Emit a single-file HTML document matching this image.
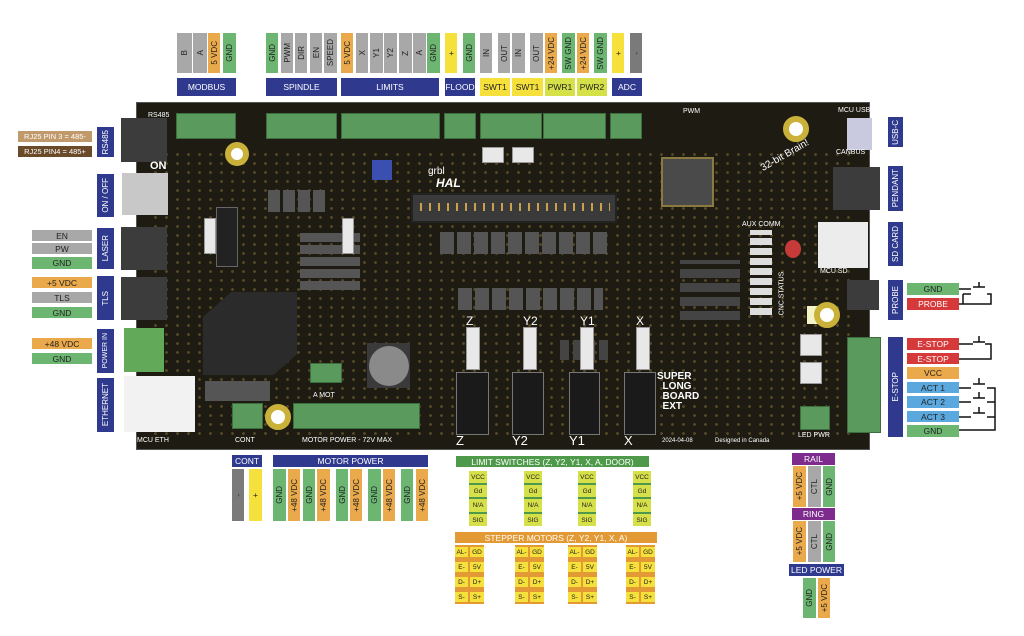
<!DOCTYPE html>
<html><head><meta charset="utf-8">
<style>
*{margin:0;padding:0;box-sizing:border-box}
body{width:1024px;height:636px;background:#fff;position:relative;overflow:hidden;font-family:"Liberation Sans",sans-serif}
.a{position:absolute}
.v{position:absolute;display:flex;align-items:center;justify-content:center;font-size:8px;color:#222;}
.v span{writing-mode:vertical-rl;transform:rotate(180deg);white-space:nowrap}
.h{position:absolute;display:flex;align-items:center;justify-content:center;font-size:8.5px;color:#fff;white-space:nowrap}
.B{background:#2f3a8f;color:#fff}
.G{background:#a8a8a8}.O{background:#eaa94a}.N{background:#6cb672}.Y{background:#f6e03c}.L{background:#d6e048}.D{background:#7a7a7a}.R{background:#d6393a;color:#fff}.S{background:#5ba8de}.P{background:#7d2b8d;color:#fff}
.t{position:absolute;background:#5a9a5c;border:1px solid #3d6e3f}
.k{position:absolute;background:#3c3c3c}
.c{position:absolute;background:#e8e8e8;border:1px solid #999}
.chip{position:absolute;background:#505050}
.w{position:absolute;color:#fff;font-size:7px;white-space:nowrap}
</style></head><body>

<!-- BOARD -->
<div class="a" style="left:136px;top:102px;width:734px;height:348px;background:#1d1b12;border:1px solid #555"></div>
<div class="a" style="left:150px;top:150px;width:700px;height:290px;background:radial-gradient(circle,rgba(214,170,80,.55) 1.3px,transparent 1.6px) 0 0/11px 9px;opacity:.55"></div>
<!-- left jacks -->
<div class="k" style="left:121px;top:118px;width:46px;height:44px"></div>
<div class="a" style="left:122px;top:173px;width:46px;height:42px;background:#c8c8c8"></div>
<div class="k" style="left:121px;top:227px;width:46px;height:43px"></div>
<div class="k" style="left:121px;top:277px;width:46px;height:43px"></div>
<div class="a" style="left:124px;top:328px;width:40px;height:44px;background:#62a95a"></div>
<div class="a" style="left:124px;top:376px;width:71px;height:56px;background:#f2f2f2"></div>
<!-- top terminals -->
<div class="t" style="left:176px;top:113px;width:60px;height:26px"></div>
<div class="t" style="left:266px;top:113px;width:71px;height:26px"></div>
<div class="t" style="left:341px;top:113px;width:99px;height:26px"></div>
<div class="t" style="left:444px;top:113px;width:32px;height:26px"></div>
<div class="t" style="left:480px;top:113px;width:62px;height:26px"></div>
<div class="t" style="left:543px;top:113px;width:63px;height:26px"></div>
<div class="t" style="left:610px;top:113px;width:32px;height:26px"></div>
<!-- chips -->
<div class="chip" style="left:661px;top:157px;width:53px;height:50px;background:#4a4a4a;border:2px solid #8a7a40"></div>
<div class="a" style="left:411px;top:193px;width:206px;height:30px;background:#3a3a3a;border:2px solid #222"></div>
<div class="a" style="left:420px;top:203px;width:190px;height:8px;background:repeating-linear-gradient(90deg,#c9a14a 0 2px,transparent 2px 9px)"></div>
<div class="a" style="left:440px;top:232px;width:170px;height:22px;background:repeating-linear-gradient(90deg,#555 0 14px,transparent 14px 17px)"></div>
<div class="a" style="left:458px;top:288px;width:145px;height:22px;background:repeating-linear-gradient(90deg,#555 0 14px,transparent 14px 17px)"></div>
<div class="a" style="left:268px;top:190px;width:60px;height:22px;background:repeating-linear-gradient(90deg,#555 0 12px,transparent 12px 15px)"></div>
<div class="a" style="left:300px;top:230px;width:60px;height:60px;background:repeating-linear-gradient(0deg,#555 0 9px,transparent 9px 12px)"></div>
<div class="a" style="left:680px;top:260px;width:60px;height:60px;background:repeating-linear-gradient(0deg,#444 0 9px,transparent 9px 14px)"></div>
<div class="a" style="left:560px;top:340px;width:50px;height:20px;background:repeating-linear-gradient(90deg,#444 0 9px,transparent 9px 13px)"></div>
<div class="a" style="left:372px;top:160px;width:20px;height:20px;background:#3a4fb0"></div>
<!-- battery octagon -->
<div class="a" style="left:203px;top:292px;width:94px;height:83px;background:#2b2b2b;clip-path:polygon(30% 0,100% 0,100% 75%,75% 100%,0 100%,0 30%)"></div>
<div class="a" style="left:367px;top:343px;width:43px;height:45px;background:#3a3a3a"></div>
<div class="a" style="left:369px;top:346px;width:40px;height:40px;border-radius:50%;background:#8a8a8a"></div>
<!-- pin headers -->
<div class="k" style="left:216px;top:207px;width:22px;height:60px;background:#222;border:1px solid #666"></div>
<div class="c" style="left:204px;top:218px;width:12px;height:36px"></div>
<div class="c" style="left:342px;top:218px;width:12px;height:36px"></div>
<div class="c" style="left:466px;top:327px;width:14px;height:43px"></div>
<div class="c" style="left:523px;top:327px;width:14px;height:43px"></div>
<div class="c" style="left:580px;top:327px;width:14px;height:43px"></div>
<div class="c" style="left:636px;top:327px;width:14px;height:43px"></div>
<div class="k" style="left:456px;top:372px;width:33px;height:63px;background:#1a1a1a;border:1px solid #777"></div>
<div class="k" style="left:512px;top:372px;width:32px;height:63px;background:#1a1a1a;border:1px solid #777"></div>
<div class="k" style="left:569px;top:372px;width:31px;height:63px;background:#1a1a1a;border:1px solid #777"></div>
<div class="k" style="left:624px;top:372px;width:32px;height:63px;background:#1a1a1a;border:1px solid #777"></div>
<div class="a" style="left:750px;top:230px;width:22px;height:85px;background:repeating-linear-gradient(0deg,#ddd 0 7px,transparent 7px 10px)"></div>
<div class="c" style="left:800px;top:334px;width:22px;height:22px"></div>
<div class="c" style="left:800px;top:362px;width:22px;height:22px"></div>
<div class="c" style="left:482px;top:147px;width:22px;height:16px"></div>
<div class="c" style="left:512px;top:147px;width:22px;height:16px"></div>
<!-- bottom terminals -->
<div class="t" style="left:232px;top:403px;width:31px;height:26px"></div>
<div class="t" style="left:293px;top:403px;width:127px;height:26px"></div>
<div class="t" style="left:310px;top:363px;width:32px;height:20px"></div>
<div class="t" style="left:800px;top:406px;width:30px;height:24px"></div>
<div class="a" style="left:205px;top:381px;width:65px;height:20px;background:#555"></div>
<!-- right side -->
<div class="a" style="left:847px;top:118px;width:25px;height:32px;background:#c9c9e0"></div>
<div class="k" style="left:833px;top:167px;width:47px;height:43px"></div>
<div class="a" style="left:818px;top:222px;width:50px;height:46px;background:#ececec"></div>
<div class="k" style="left:847px;top:280px;width:32px;height:30px"></div>
<div class="a" style="left:847px;top:337px;width:34px;height:96px;background:#5a9a5c;border:1px solid #3d6e3f"></div>
<div class="a" style="left:807px;top:306px;width:18px;height:18px;background:#f3f3c8"></div>
<div class="a" style="left:785px;top:240px;width:16px;height:18px;border-radius:50%;background:#c73a3a"></div>
<!-- gold rings -->
<div class="a" style="left:225px;top:142px;width:24px;height:24px;border-radius:50%;background:#fff;border:6px solid #c9b13a"></div>
<div class="a" style="left:265px;top:404px;width:26px;height:26px;border-radius:50%;background:#fff;border:6px solid #c9b13a"></div>
<div class="a" style="left:783px;top:116px;width:26px;height:26px;border-radius:50%;background:#fff;border:6px solid #c9b13a"></div>
<div class="a" style="left:814px;top:302px;width:26px;height:26px;border-radius:50%;background:#fff;border:6px solid #c9b13a"></div>
<!-- board text -->
<div class="w" style="left:148px;top:112px">RS485</div>
<div class="w" style="left:150px;top:160px;font-size:11px;font-weight:bold">ON</div>
<div class="w" style="left:428px;top:166px;font-size:10px">grbl</div>
<div class="w" style="left:436px;top:176px;font-size:12px;font-weight:bold;font-style:italic">HAL</div>
<div class="w" style="left:758px;top:150px;font-size:10px;transform:rotate(-30deg)">32-bit Brain!</div>
<div class="w" style="left:683px;top:108px">PWM</div>
<div class="w" style="left:838px;top:107px">MCU USB</div>
<div class="w" style="left:836px;top:149px">CANBUS</div>
<div class="w" style="left:820px;top:268px">MCU SD</div>
<div class="w" style="left:742px;top:221px">AUX COMM</div>
<div class="w" style="left:657px;top:372px;font-size:10px;font-weight:bold;line-height:10px">SUPER<br>&nbsp;&nbsp;LONG<br>&nbsp;&nbsp;BOARD<br>&nbsp;&nbsp;EXT</div>
<div class="w" style="left:456px;top:433px;font-size:13px">Z</div>
<div class="w" style="left:512px;top:433px;font-size:13px">Y2</div>
<div class="w" style="left:569px;top:433px;font-size:13px">Y1</div>
<div class="w" style="left:624px;top:433px;font-size:13px">X</div>
<div class="w" style="left:466px;top:314px;font-size:12px">Z</div>
<div class="w" style="left:523px;top:314px;font-size:12px">Y2</div>
<div class="w" style="left:580px;top:314px;font-size:12px">Y1</div>
<div class="w" style="left:636px;top:314px;font-size:12px">X</div>
<div class="w" style="left:235px;top:437px">CONT</div>
<div class="w" style="left:302px;top:437px">MOTOR POWER - 72V MAX</div>
<div class="w" style="left:313px;top:392px">A MOT</div>
<div class="w" style="left:137px;top:437px">MCU ETH</div>
<div class="w" style="left:662px;top:438px;font-size:6px">2024-04-08</div>
<div class="w" style="left:715px;top:438px;font-size:6px">Designed in Canada</div>
<div class="w" style="left:798px;top:432px">LED PWR</div>
<div class="w" style="left:760px;top:290px;font-size:7px;transform:rotate(-90deg)">CNC STATUS</div>

<!-- TOP LABELS -->
<div class="v G" style="left:177px;top:33px;width:15px;height:40px"><span>B</span></div>
<div class="v G" style="left:193px;top:33px;width:14px;height:40px"><span>A</span></div>
<div class="v O" style="left:208px;top:33px;width:12px;height:40px"><span>5 VDC</span></div>
<div class="v N" style="left:223px;top:33px;width:13px;height:40px"><span>GND</span></div>
<div class="h B" style="left:177px;top:78px;width:59px;height:18px">MODBUS</div>

<div class="v N" style="left:266px;top:33px;width:12px;height:40px"><span>GND</span></div>
<div class="v G" style="left:281px;top:33px;width:12px;height:40px"><span>PWM</span></div>
<div class="v G" style="left:295px;top:33px;width:12px;height:40px"><span>DIR</span></div>
<div class="v G" style="left:310px;top:33px;width:12px;height:40px"><span>EN</span></div>
<div class="v G" style="left:324px;top:33px;width:13px;height:40px"><span>SPEED</span></div>
<div class="h B" style="left:266px;top:78px;width:71px;height:18px">SPINDLE</div>

<div class="v O" style="left:341px;top:33px;width:12px;height:40px"><span>5 VDC</span></div>
<div class="v G" style="left:356px;top:33px;width:12px;height:40px"><span>X</span></div>
<div class="v G" style="left:370px;top:33px;width:13px;height:40px"><span>Y1</span></div>
<div class="v G" style="left:384px;top:33px;width:13px;height:40px"><span>Y2</span></div>
<div class="v G" style="left:399px;top:33px;width:13px;height:40px"><span>Z</span></div>
<div class="v G" style="left:413px;top:33px;width:13px;height:40px"><span>A</span></div>
<div class="v N" style="left:427px;top:33px;width:13px;height:40px"><span>GND</span></div>
<div class="h B" style="left:341px;top:78px;width:98px;height:18px">LIMITS</div>

<div class="v Y" style="left:445px;top:33px;width:12px;height:40px"><span>+</span></div>
<div class="v N" style="left:463px;top:33px;width:12px;height:40px"><span>GND</span></div>
<div class="h B" style="left:445px;top:78px;width:30px;height:18px">FLOOD</div>

<div class="v G" style="left:480px;top:33px;width:12px;height:40px"><span>IN</span></div>
<div class="v G" style="left:498px;top:33px;width:12px;height:40px"><span>OUT</span></div>
<div class="v G" style="left:512px;top:33px;width:13px;height:40px"><span>IN</span></div>
<div class="v G" style="left:530px;top:33px;width:13px;height:40px"><span>OUT</span></div>
<div class="v O" style="left:545px;top:33px;width:12px;height:40px"><span>+24 VDC</span></div>
<div class="v N" style="left:562px;top:33px;width:13px;height:40px"><span>SW GND</span></div>
<div class="v O" style="left:577px;top:33px;width:12px;height:40px"><span>+24 VDC</span></div>
<div class="v N" style="left:594px;top:33px;width:13px;height:40px"><span>SW GND</span></div>
<div class="h Y" style="left:480px;top:78px;width:30px;height:18px;color:#222">SWT1</div>
<div class="h Y" style="left:512px;top:78px;width:31px;height:18px;color:#222">SWT1</div>
<div class="h L" style="left:545px;top:78px;width:30px;height:18px;color:#222">PWR1</div>
<div class="h L" style="left:577px;top:78px;width:30px;height:18px;color:#222">PWR2</div>

<div class="v Y" style="left:612px;top:33px;width:12px;height:40px"><span>+</span></div>
<div class="v D" style="left:630px;top:33px;width:12px;height:40px"><span>-</span></div>
<div class="h B" style="left:612px;top:78px;width:30px;height:18px">ADC</div>

<!-- LEFT LABELS -->
<div class="v B" style="left:97px;top:127px;width:17px;height:30px"><span style="color:#fff">RS485</span></div>
<div class="h" style="left:18px;top:131px;width:74px;height:11px;background:#c09a6b;font-size:7.5px">RJ25 PIN 3 = 485-</div>
<div class="h" style="left:18px;top:146px;width:74px;height:11px;background:#6b4a2a;font-size:7.5px">RJ25 PIN4 = 485+</div>
<div class="v B" style="left:97px;top:174px;width:17px;height:43px"><span style="color:#fff">ON / OFF</span></div>
<div class="v B" style="left:97px;top:228px;width:17px;height:41px"><span style="color:#fff">LASER</span></div>
<div class="h G" style="left:32px;top:230px;width:60px;height:11px;color:#222">EN</div>
<div class="h G" style="left:32px;top:243px;width:60px;height:11px;color:#222">PW</div>
<div class="h N" style="left:32px;top:257px;width:60px;height:12px;color:#222">GND</div>
<div class="v B" style="left:97px;top:276px;width:17px;height:44px"><span style="color:#fff">TLS</span></div>
<div class="h O" style="left:32px;top:277px;width:60px;height:11px;color:#222">+5 VDC</div>
<div class="h G" style="left:32px;top:292px;width:60px;height:11px;color:#222">TLS</div>
<div class="h N" style="left:32px;top:307px;width:60px;height:11px;color:#222">GND</div>
<div class="v B" style="left:97px;top:329px;width:17px;height:44px;font-size:7px"><span style="color:#fff">POWER IN</span></div>
<div class="h O" style="left:32px;top:338px;width:60px;height:11px;color:#222">+48 VDC</div>
<div class="h N" style="left:32px;top:353px;width:60px;height:11px;color:#222">GND</div>
<div class="v B" style="left:97px;top:378px;width:17px;height:54px"><span style="color:#fff">ETHERNET</span></div>

<!-- RIGHT LABELS -->
<div class="v B" style="left:888px;top:117px;width:15px;height:30px"><span style="color:#fff">USB-C</span></div>
<div class="v B" style="left:888px;top:166px;width:15px;height:45px"><span style="color:#fff">PENDANT</span></div>
<div class="v B" style="left:888px;top:222px;width:15px;height:44px"><span style="color:#fff">SD CARD</span></div>
<div class="v B" style="left:888px;top:280px;width:15px;height:40px"><span style="color:#fff">PROBE</span></div>
<div class="h N" style="left:907px;top:283px;width:52px;height:12px;color:#222">GND</div>
<div class="h R" style="left:907px;top:298px;width:52px;height:12px">PROBE</div>
<div class="v B" style="left:888px;top:337px;width:15px;height:100px"><span style="color:#fff">E-STOP</span></div>
<div class="h R" style="left:907px;top:338px;width:52px;height:12px">E-STOP</div>
<div class="h R" style="left:907px;top:353px;width:52px;height:11px">E-STOP</div>
<div class="h O" style="left:907px;top:367px;width:52px;height:12px;color:#222">VCC</div>
<div class="h S" style="left:907px;top:382px;width:52px;height:11px;color:#222">ACT 1</div>
<div class="h S" style="left:907px;top:396px;width:52px;height:12px;color:#222">ACT 2</div>
<div class="h S" style="left:907px;top:411px;width:52px;height:11px;color:#222">ACT 3</div>
<div class="h N" style="left:907px;top:425px;width:52px;height:12px;color:#222">GND</div>
<svg class="a" style="left:959px;top:280px" width="40" height="160">
<g stroke="#111" stroke-width="1.5" fill="none">
<path d="M0 9 H12 M0 24 H4 V14 M4 14 H12 M28 14 H32 V24 H0"/>
<path d="M14 7 H26 M20 7 V2"/>
<path d="M0 64 H14 M0 79 H32 V64 H26 M14 62 H26 M20 62 V56"/>
<path d="M0 108 H12 M28 108 H36 V150 H0"/>
<path d="M0 122 H12 M28 122 H36"/>
<path d="M0 137 H12 M28 137 H36"/>
<path d="M14 104 H26 M20 104 V98 M14 118 H26 M20 118 V112 M14 133 H26 M20 133 V127"/>
</g></svg>

<!-- RAIL / RING / LED -->
<div class="h P" style="left:792px;top:453px;width:43px;height:12px">RAIL</div>
<div class="v O" style="left:793px;top:466px;width:13px;height:41px"><span>+5 VDC</span></div>
<div class="v G" style="left:808px;top:466px;width:13px;height:41px"><span>CTL</span></div>
<div class="v N" style="left:823px;top:466px;width:12px;height:41px"><span>GND</span></div>
<div class="h P" style="left:792px;top:508px;width:43px;height:12px">RING</div>
<div class="v O" style="left:793px;top:521px;width:13px;height:41px"><span>+5 VDC</span></div>
<div class="v G" style="left:808px;top:521px;width:13px;height:41px"><span>CTL</span></div>
<div class="v N" style="left:823px;top:521px;width:12px;height:41px"><span>GND</span></div>
<div class="h B" style="left:789px;top:564px;width:55px;height:12px">LED POWER</div>
<div class="v N" style="left:803px;top:578px;width:13px;height:40px"><span>GND</span></div>
<div class="v O" style="left:818px;top:578px;width:12px;height:40px"><span>+5 VDC</span></div>

<!-- BOTTOM LEFT -->
<div class="h B" style="left:232px;top:455px;width:30px;height:12px">CONT</div>
<div class="v D" style="left:232px;top:469px;width:12px;height:52px"><span>-</span></div>
<div class="v Y" style="left:249px;top:469px;width:13px;height:52px"><span>+</span></div>
<div class="h B" style="left:273px;top:455px;width:155px;height:12px">MOTOR POWER</div>
<div class="v N" style="left:273px;top:469px;width:13px;height:52px"><span>GND</span></div>
<div class="v O" style="left:288px;top:469px;width:12px;height:52px"><span>+48 VDC</span></div>
<div class="v N" style="left:303px;top:469px;width:12px;height:52px"><span>GND</span></div>
<div class="v O" style="left:317px;top:469px;width:13px;height:52px"><span>+48 VDC</span></div>
<div class="v N" style="left:336px;top:469px;width:12px;height:52px"><span>GND</span></div>
<div class="v O" style="left:350px;top:469px;width:12px;height:52px"><span>+48 VDC</span></div>
<div class="v N" style="left:368px;top:469px;width:13px;height:52px"><span>GND</span></div>
<div class="v O" style="left:383px;top:469px;width:12px;height:52px"><span>+48 VDC</span></div>
<div class="v N" style="left:401px;top:469px;width:12px;height:52px"><span>GND</span></div>
<div class="v O" style="left:416px;top:469px;width:12px;height:52px"><span>+48 VDC</span></div>

<div class="h" style="left:456px;top:456px;width:193px;height:11px;background:#4e9a4a">LIMIT SWITCHES (Z, Y2, Y1, X, A, DOOR)</div>
<div class="h" style="left:455px;top:532px;width:202px;height:11px;background:#e39a34">STEPPER MOTORS (Z, Y2, Y1, X, A)</div>

<div id="ls"></div>
<script>
var xs=[469,524,578,633],ys=[471,485,499,514],lab=["VCC","Gd","N/A","SIG"],h="";
xs.forEach(function(x){
 h+='<div class="a" style="left:'+x+'px;top:471px;width:18px;height:55px;background:#4e9a4a"></div>';
 ys.forEach(function(y,i){h+='<div class="h L" style="left:'+x+'px;top:'+y+'px;width:18px;height:'+(i==2?13:12)+'px;color:#222;font-size:6.5px">'+lab[i]+'</div>';});
});
var sx=[455,515,568,626],sy=[547,562,577,592],L=["AL-","E-","D-","S-"],R=["GD","5V","D+","S+"];
sx.forEach(function(x){
 h+='<div class="a" style="left:'+x+'px;top:545px;width:29px;height:59px;background:#e39a34"></div>';
 sy.forEach(function(y,i){
  h+='<div class="h Y" style="left:'+x+'px;top:'+y+'px;width:13px;height:10px;color:#222;font-size:6.5px">'+L[i]+'</div>';
  h+='<div class="h Y" style="left:'+(x+15)+'px;top:'+y+'px;width:14px;height:10px;color:#222;font-size:6.5px">'+R[i]+'</div>';
 });
});
document.getElementById("ls").innerHTML=h;
</script>
</body></html>
